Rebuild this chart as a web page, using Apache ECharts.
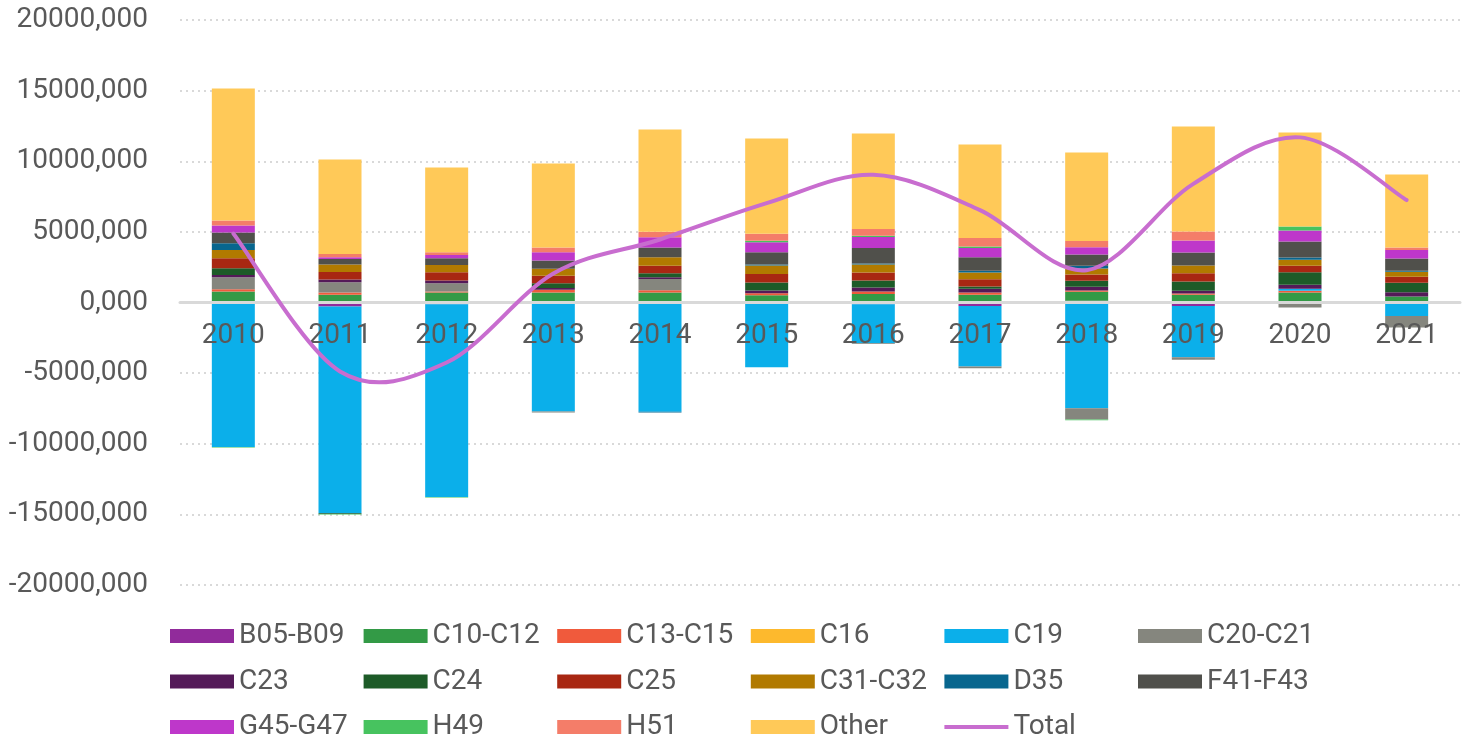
<!DOCTYPE html>
<html>
<head>
<meta charset="utf-8">
<script src="https://cdn.jsdelivr.net/npm/echarts@6/dist/echarts.min.js"></script>
<style>
html,body{margin:0;padding:0;background:#fff;}
#chart{width:1464px;height:744px;}
</style>
</head>
<body>
<div id="chart"></div>
<script>
const years = ['2010','2011','2012','2013','2014','2015','2016','2017','2018','2019','2020','2021'];
const yTicks = [-20000,-15000,-10000,-5000,0,5000,10000,15000,20000];

const B05_B09 = [0, -280, -120, -100, 0, 0, -120, -240, 120, -240, 0, 0];
const C10_C12 = [780, 540, 710, 710, 710, 520, 610, 540, 640, 540, 710, 425];
const C13_C15 = [160, 165, 60, 190, 165, 140, 165, 165, 95, 95, 120, 0];
const C16     = [0, 0, 0, 0, 0, 0, 0, 0, 0, 0, 0, 0];
const C19     = [-10230, -14640, -13650, -7610, -7730, -4580, -2760, -4290, -7490, -3630, 140, -950];
const C20_C21 = [850, 730, 590, -80, 780, 0, -50, -120, -800, -190, -350, -820];
const C23     = [165, 190, 190, 120, 140, 190, 280, 260, 260, 190, 280, 300];
const C24     = [470, -50, 0, 350, 280, 570, 500, 165, 425, 660, 900, 680];
const C25     = [710, 540, 590, 520, 520, 590, 570, 520, 450, 590, 450, 425];
const C31_C32 = [590, 520, 520, 500, 610, 610, 570, 470, 425, 540, 425, 350];
const D35     = [470, 0, 0, 0, -60, 70, 70, 120, 190, 0, 165, 70];
const F41_F43 = [755, 400, 470, 590, 680, 870, 1090, 970, 800, 920, 1130, 870];
const G45_G47 = [500, 120, 235, 570, 730, 710, 780, 640, 500, 850, 780, 590];
const H49     = [-40, -40, -40, 0, 0, 95, 95, 120, -40, 0, 280, 0];
const H51     = [350, 235, 190, 350, 400, 500, 470, 590, 450, 640, 0, 190];
const Other   = [9350, 6690, 6000, 5940, 7230, 6750, 6770, 6630, 6260, 7430, 6660, 5170];
const Total   = [4880, -4880, -4250, 2050, 4460, 7030, 9040, 6540, 2290, 8400, 11690, 7250];

const barSeries = [
  ['B05-B09', B05_B09, '#912B9B'],
  ['C10-C12', C10_C12, '#339A46'],
  ['C13-C15', C13_C15, '#F05A3C'],
  ['C16', C16, '#FDB92D'],
  ['C19', C19, '#0BAFEA'],
  ['C20-C21', C20_C21, '#85867E'],
  ['C23', C23, '#541A58'],
  ['C24', C24, '#1D5B28'],
  ['C25', C25, '#A82712'],
  ['C31-C32', C31_C32, '#B17A00'],
  ['D35', D35, '#08668E'],
  ['F41-F43', F41_F43, '#50504B'],
  ['G45-G47', G45_G47, '#BE37CA'],
  ['H49', H49, '#47C35F'],
  ['H51', H51, '#F47D69'],
  ['Other', Other, '#FFC958']
];

const FONT = 'Roboto';
const TXT = '#595959';
const LINE_COLOR = '#C86DCF';

const series = barSeries.map(([name, data, color]) => ({
  name, type: 'bar', stack: 'all', data, barWidth: 43,
  itemStyle: {color}, z: 2
}));

// Smoothed total line (Excel-like Catmull-Rom smoothing), positioned via the axes' scales
series.push({
  name: 'Total', type: 'custom', z: 10,
  data: Total.map((v, i) => [i, v]),
  encode: {x: 0, y: 1},
  itemStyle: {color: LINE_COLOR},
  renderItem: (params, api) => {
    if (params.dataIndex !== 0) return null;
    const pts = Total.map((v, i) => api.coord([i, v]));
    const n = pts.length;
    let d = 'M' + pts[0][0] + ',' + pts[0][1];
    for (let i = 0; i < n - 1; i++) {
      const p0 = pts[Math.max(i - 1, 0)], p1 = pts[i], p2 = pts[i + 1], p3 = pts[Math.min(i + 2, n - 1)];
      const c1x = p1[0] + (p2[0] - p0[0]) / 6, c1y = p1[1] + (p2[1] - p0[1]) / 6;
      const c2x = p2[0] - (p3[0] - p1[0]) / 6, c2y = p2[1] - (p3[1] - p1[1]) / 6;
      d += ' C' + c1x + ',' + c1y + ' ' + c2x + ',' + c2y + ' ' + p2[0] + ',' + p2[1];
    }
    return {
      type: 'path', shape: {pathData: d},
      style: {stroke: LINE_COLOR, lineWidth: 4, fill: null, lineJoin: 'round', lineCap: 'round'}
    };
  }
});

// Legend laid out as a 6-column grid
const legendColumns = [
  ['B05-B09', 'C23', 'G45-G47'],
  ['C10-C12', 'C24', 'H49'],
  ['C13-C15', 'C25', 'H51'],
  ['C16', 'C31-C32', 'Other'],
  ['C19', 'D35'],
  ['C20-C21', 'F41-F43']
];
const COL = 193.6;
const LEG_LEFT = 170;
const LEG_TOP = 622;
const ROW = 45.5;
const legendTextStyle = {fontFamily: FONT, fontSize: 28, color: TXT};
const legends = legendColumns.map((names, k) => ({
  data: names.map(n => ({name: n, icon: 'rect'})),
  orient: 'vertical', left: LEG_LEFT + k * COL, top: LEG_TOP,
  itemWidth: 64, itemHeight: 14, itemGap: 17.5, padding: 0,
  textStyle: legendTextStyle, selectedMode: false
}));
legends.push({
  data: [{name: 'Total', icon: 'rect'}],
  orient: 'vertical', left: LEG_LEFT + 4 * COL, top: LEG_TOP + 2 * ROW,
  itemWidth: 64, itemHeight: 4, padding: 0,
  textStyle: legendTextStyle, selectedMode: false
});

const chart = echarts.init(document.getElementById('chart'), null, {renderer: 'canvas'});
chart.setOption({
  animation: false,
  backgroundColor: '#fff',
  grid: {left: 180, right: 4, top: 20, bottom: 159},
  legend: legends,
  xAxis: {
    type: 'category', data: years, z: 5, position: 'bottom', offset: -283,
    axisLine: {onZero: false, lineStyle: {color: '#d9d9d9', width: 3}},
    axisTick: {show: false},
    axisLabel: {fontFamily: FONT, fontSize: 28, color: TXT, margin: 20}
  },
  yAxis: {
    type: 'value', min: yTicks[0], max: yTicks[yTicks.length-1], interval: 5000,
    axisLine: {show: false}, axisTick: {show: false},
    splitLine: {lineStyle: {color: '#d9d9d9', width: 2, type: [2, 4]}},
    axisLabel: {fontFamily: FONT, fontSize: 28, color: TXT, margin: 32,
      formatter: v => v + ',000'}
  },
  series
});
</script>
</body>
</html>
